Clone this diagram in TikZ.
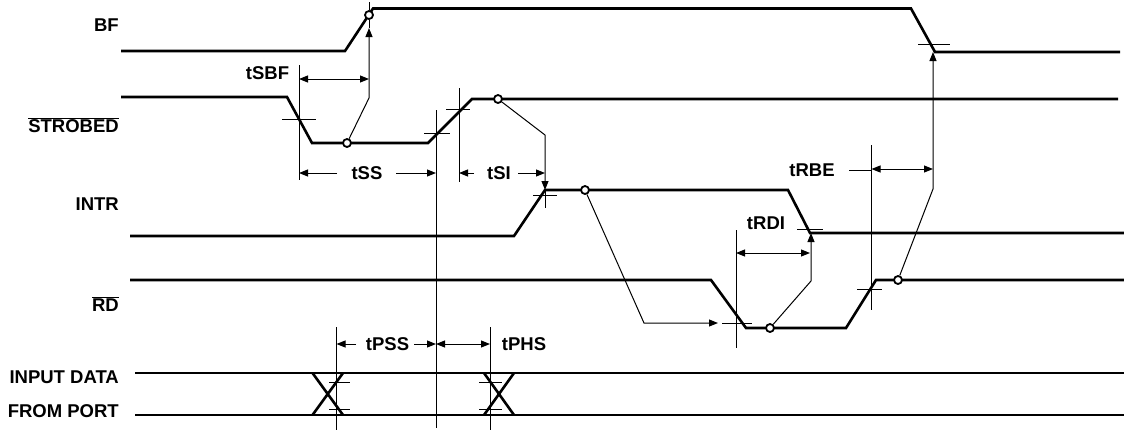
\documentclass[tikz,border=0pt]{standalone}
\usepackage{fontspec}
\setmainfont{Liberation Sans}
\usetikzlibrary{arrows.meta}

\begin{document}
\begin{tikzpicture}[x=1pt, y=-1pt,
        sig/.style={line width=2.6pt, line join=miter},
        thn/.style={line width=1pt},
        tip/.style={thn, -{Triangle[length=9pt, width=7pt]}},
        dtip/.style={thn, {Triangle[length=9pt, width=7pt]}-{Triangle[length=9pt, width=7pt]}},
        dot/.style={circle, draw, line width=1.8pt, fill=white, inner sep=0pt, minimum size=8pt},
        sname/.style={font=\bfseries\fontsize{18.5}{21}\selectfont, anchor=base east, inner sep=0pt},
        tname/.style={font=\bfseries\fontsize{18.5}{21}\selectfont, anchor=base, inner sep=0pt}]
        \useasboundingbox (0,0) rectangle (1124,432);

        % signal names
        \node[sname] (nBF) at (119,31.5) {BF};
        \node[sname] (nSTB) at (119,132.5) {$\overline{\hbox{STROBED}}$};
        \node[sname] (nINTR) at (119,210.5) {INTR};
        \node[sname] (nRD) at (119,311.5) {$\overline{\hbox{RD}}$};
        \node[sname] (nIN) at (119,383.5) {INPUT DATA};
        \node[sname] (nFP) at (119,417.5) {FROM PORT};

        % waveforms
        \draw[sig] (121,51) -- (345,51) -- (373,8.5) -- (911,8.5) -- (935,52) -- (1120,52);
        \draw[sig] (121,97) -- (287,97) -- (312,143) -- (428,143) -- (472,99) -- (1118,99);
        \draw[sig] (130,236) -- (514,236) -- (545,190) -- (788,190) -- (810,233) -- (1124,233);
        \draw[sig] (130,280) -- (711,280) -- (746,328) -- (846,328) -- (876,280) -- (1124,280);
        \draw[sig] (135,373) -- (1124,373) (135,415) -- (1124,415);
        \draw[sig] (312.5,373) -- (343,415) (343,373) -- (312.5,415);
        \draw[sig] (484,373) -- (514,415) (514,373) -- (484,415);

        % reference ticks
        \draw[thn] (282,119) -- (316,119) (424,133) -- (450,133) (446,109) -- (470,109);
        \draw[thn] (533,195) -- (557,195) (797,229) -- (823,229);
        \draw[thn] (722,323) -- (752,323) (857,289) -- (882,289) (918,44) -- (950,44);
        \draw[thn] (329,382) -- (350,382) (329,409) -- (350,409);
        \draw[thn] (479,382) -- (502,382) (479,409) -- (502,409);

        % extension lines
        \draw[thn] (299,65) -- (299,180);
        \draw[thn] (436,110) -- (436,428);
        \draw[thn] (459,88) -- (459,182);
        \draw[thn] (736,230) -- (736,348);
        \draw[thn] (871.5,145) -- (871.5,310);
        \draw[thn] (336.5,327) -- (336.5,430);
        \draw[thn] (490,327) -- (490,430);

        % edge markers
        \node[dot] (bfc) at (369,15) {};
        \node[dot] (sc1) at (347,143) {};
        \node[dot] (sc2) at (498,99) {};
        \node[dot] (ic) at (585,190) {};
        \node[dot] (rc1) at (770,328) {};
        \node[dot] (rc2) at (898,280) {};

        % cause and effect
        \coordinate (bfa) at (369,28);
        \coordinate (ina) at (545,190);
        \draw[tip] (sc1) -- (369,98) -- (bfa);
        \draw[thn] (bfa) -- (bfc.south) (bfc.north) -- (369,2);
        \draw[tip] (sc2) -- (545,135) -- (ina);
        \draw[thn] (ina) -- (545,208);
        \draw[tip] (ic) -- (644,323) -- (718,323);
        \draw[tip] (rc1) -- (811,281) -- (811,233);
        \draw[tip] (rc2) -- (933,189) -- (933,52);

        % timing parameters
        \draw[dtip] (299,79) -- (369,79);
        \node[tname] (tSBF) at (267.5,79.5) {tSBF};
        \node[tname] (tSS) at (367,179.5) {tSS};
        \draw[tip] (337,173) -- (299,173);
        \draw[tip] (396,173) -- (436,173);
        \node[tname] (tSI) at (499,179.5) {tSI};
        \draw[tip] (474,173) -- (459,173);
        \draw[tip] (518,173) -- (545,173);
        \node[tname] (tRDI) at (766,229.5) {tRDI};
        \draw[dtip] (736,253) -- (810,253);
        \node[tname] (tRBE) at (812,176.5) {tRBE};
        \draw[thn] (849,170) -- (871.5,170);
        \draw[dtip] (871.5,169) -- (933,169);
        \node[tname] (tPSS) at (387.5,350.5) {tPSS};
        \draw[tip] (356,344) -- (336.5,344);
        \draw[tip] (414,344) -- (436,344);
        \draw[dtip] (436,344) -- (490,344);
        \node[tname] (tPHS) at (524,350.5) {tPHS};
    \end{tikzpicture}
\end{document}
